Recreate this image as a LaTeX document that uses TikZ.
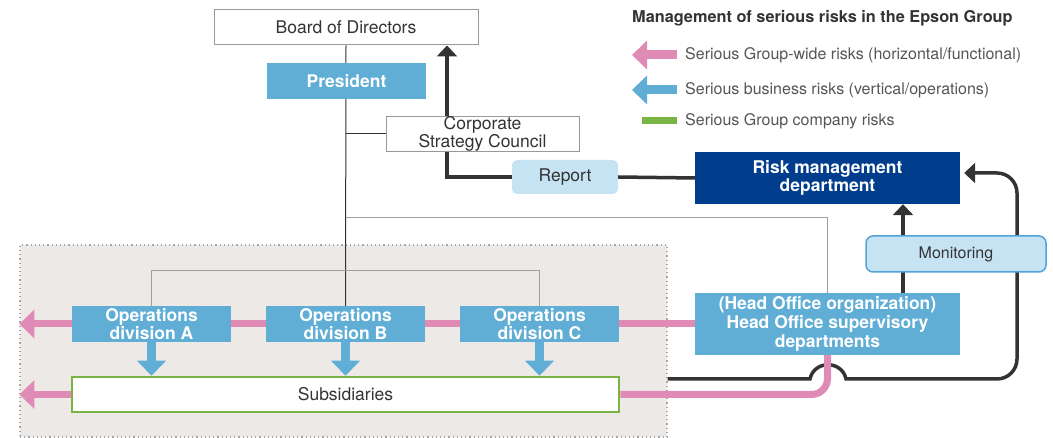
\documentclass[tikz,border=0pt]{standalone}
\usepackage{fontspec}
\setmainfont{TeX Gyre Heros}
\usetikzlibrary{positioning,arrows.meta}

\definecolor{divblue}{RGB}{96,173,214}
\definecolor{navy}{RGB}{0,61,140}
\definecolor{paleblue}{RGB}{198,227,244}
\definecolor{monedge}{RGB}{79,163,214}
\definecolor{riskpink}{RGB}{224,139,181}
\definecolor{grpgreen}{RGB}{122,180,69}
\definecolor{grpbg}{RGB}{237,233,230}
\definecolor{linedark}{RGB}{51,51,51}
\definecolor{txtgray}{RGB}{85,85,85}

\newcommand{\mainsize}{\fontsize{17.5}{18.5}\selectfont}
\newcommand{\legsize}{\fontsize{16}{18}\selectfont}

\begin{document}
\begin{tikzpicture}[x=1pt,y=-1pt,
  box/.style={draw=gray!80,fill=white,line width=1pt,inner sep=0pt,align=center,text=linedark,font=\mainsize},
  bluebox/.style={fill=divblue,inner sep=0pt,align=center,text=white,font=\mainsize\bfseries},
  tagbox/.style={fill=paleblue,rounded corners=5pt,inner sep=0pt,text=linedark,font=\mainsize},
  darkarr/.style={-{Triangle[width=20pt,length=11pt]},line width=3.5pt,draw=linedark},
  darkline/.style={line width=3.5pt,draw=linedark},
  pinkarr/.style={-{Triangle[width=28pt,length=15pt]},line width=7pt,draw=riskpink},
  pinkline/.style={line width=7pt,draw=riskpink},
  bluearr/.style={-{Triangle[width=28pt,length=15pt]},line width=9pt,draw=divblue},
  thinline/.style={line width=1pt,draw=linedark},
  grayline/.style={line width=1pt,draw=gray!75},
  legtext/.style={anchor=west,inner sep=0pt,text=txtgray,font=\legsize}]
\useasboundingbox (0,0) rectangle (1053,438);

% group area
\node[fill=grpbg,draw=gray!70,line width=1.2pt,dash pattern=on 1.2pt off 3pt,
  minimum width=647pt,minimum height=192pt] (grp) at (343.5,341) {};

% organization
\node[box,minimum width=264pt,minimum height=35pt] (bod) at (346,27.5) {Board of Directors};
\node[tagbox,minimum width=106pt,minimum height=34pt] (rep) at (565,177) {Report};
\node[fill=navy,inner sep=0pt,align=center,text=white,font=\mainsize\bfseries,
  minimum width=265pt,minimum height=52pt] (rm) at (827.5,178) {Risk management\\department};
\node[bluebox,minimum width=265pt,minimum height=62pt,font=\fontsize{17.5}{19}\selectfont\bfseries]
  (ho) at (827.5,324) {(Head Office organization)\\Head Office supervisory\\departments};
\node[bluebox,minimum width=159pt,minimum height=36pt] (divA) at (151.5,324) {Operations\\division A};
\node[bluebox,minimum width=159pt,minimum height=36pt] (divB) at (345.5,324) {Operations\\division B};
\node[bluebox,minimum width=159pt,minimum height=36pt] (divC) at (539.5,324) {Operations\\division C};
\node[box,draw=grpgreen,line width=2.5pt,minimum width=547pt,minimum height=35pt] (sub) at (345.5,394.5) {Subsidiaries};

% reporting lines
\coordinate (tap) at (346,218);
\coordinate (bumpL) at (810,379);
\coordinate (bumpR) at (846,379);
\coordinate (loopC) at (1017,379);
\draw[thinline] (bod.south) -- (divB.north);
\draw[grayline] (divA.north) -- ++(0,-35) -| (divC.north);
\draw[grayline] (tap) -| (ho.north);
\draw[darkarr] (rep.west) -| ([xshift=101pt]bod.south);
\draw[darkline] (rep.east) -- (rm.west);
\draw[darkarr] ([xshift=75.5pt]ho.north) -- ([xshift=75.5pt]rm.south);
\draw[darkarr] ([yshift=-38pt]grp.east) -- (bumpL) .. controls +(4,-19) and +(-4,-19) .. (bumpR)
  [rounded corners=20pt] -- (loopC) |- ([xshift=4pt,yshift=5pt]rm.east);

% risk flows
\draw[pinkline] (ho.west) -- (divC.east);
\draw[pinkline] (divC.west) -- (divB.east);
\draw[pinkline] (divB.west) -- (divA.east);
\draw[pinkarr] (divA.west) -- (grp.west |- divA.west);
\draw[pinkarr] (sub.west) -- (grp.west |- sub.west);
\draw[pinkline,rounded corners=16pt] (ho.south) |- (sub.east);
\foreach \d in {divA,divB,divC}
  \draw[bluearr] (\d.south) -- (\d.south |- sub.north);

% boxes on top of lines
\node[bluebox,minimum width=159pt,minimum height=36pt] (pres) at (346.5,81) {President};
\node[box,minimum width=193pt,minimum height=34pt,font=\fontsize{17.5}{15.5}\selectfont]
  (csc) at (482.5,134) {Corporate\\Strategy Council};
\draw[thinline] (csc.west) -- (csc.west -| bod.south);
\node[tagbox,draw=monedge,line width=1.5pt,rounded corners=7pt,font=\fontsize{16}{18}\selectfont,
  minimum width=180pt,minimum height=36pt] (mon) at (956,254) {Monitoring};

% legend
\node[anchor=west,inner sep=0pt,text=linedark,font=\fontsize{16.3}{18}\selectfont\bfseries]
  (title) at (632,18) {Management of serious risks in the Epson Group};
\node[legtext] (lg1) at (685,55) {Serious Group-wide risks (horizontal/functional)};
\node[legtext] (lg2) at (685,90) {Serious business risks (vertical/operations)};
\node[legtext] (lg3) at (685,121) {Serious Group company risks};
\draw[pinkarr,line width=9pt] ([xshift=-8pt]lg1.west) -- ++(-45,0);
\draw[bluearr] ([xshift=-8pt]lg2.west) -- ++(-45,0);
\draw[line width=7pt,draw=grpgreen] ([xshift=-8pt]lg3.west) -- ++(-35,0);
\end{tikzpicture}
\end{document}
